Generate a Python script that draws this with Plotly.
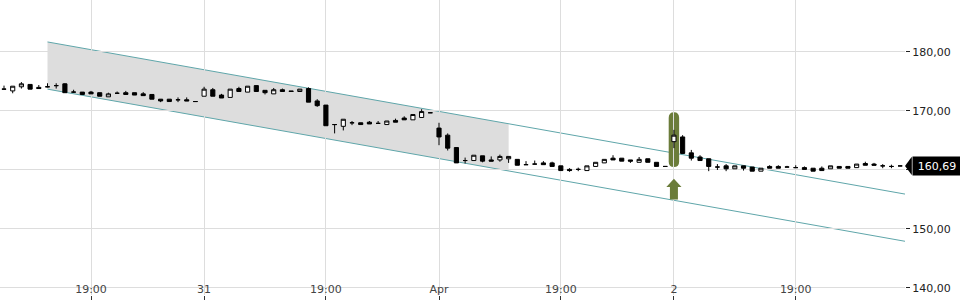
import pandas as pd
import plotly.graph_objects as go

# ---------------- data ----------------
session_dates = ["2020-03-30", "2020-03-31", "2020-04-01", "2020-04-02"]
session_first = ["16:30", "15:30", "15:30", "15:30"]
session_last = "22:00"

opens = [173.7, 173.4, 174.1, 174.5, 174.0, 174.1, 174.3, 174.6, 173.2, 173.2,
         173.2, 173.1, 172.4, 173.0, 173.1, 173.1, 172.9, 172.8, 172.0, 172.0,
         171.9, 171.9, 171.6,
         172.5, 173.6, 172.7, 172.3, 173.8, 173.2, 174.3, 173.5, 172.9, 173.6,
         173.4, 173.3, 173.8, 171.7, 171.0, 167.7, 167.4, 168.0, 168.0, 168.1,
         167.9, 167.7, 168.4, 168.8, 168.5, 168.9, 169.7,
         167.1, 165.9, 163.8, 161.6, 161.6, 162.4, 161.7, 161.7, 161.9, 161.8,
         160.9, 161.0, 161.2, 161.2, 160.7, 160.1, 160.1, 159.9, 160.6, 161.2,
         162.0, 162.0, 161.7, 161.3, 161.9, 161.3, 160.6,
         164.8, 165.6, 162.9, 162.2, 161.9, 160.5, 160.7, 160.2, 160.7, 160.5,
         159.8, 160.6, 160.6, 160.5, 160.4, 160.4, 160.3, 160.3, 160.2, 160.6,
         160.6, 160.4, 161.1, 161.0, 160.7, 160.6, 160.69]
highs = [174.3, 174.2, 174.9, 174.5, 174.4, 174.7, 174.7, 174.7, 173.6, 173.2,
         173.4, 173.1, 173.1, 173.3, 173.4, 173.1, 173.2, 172.8, 172.0, 172.0,
         172.3, 172.3, 171.6,
         174.1, 173.9, 172.9, 173.7, 174.1, 174.2, 174.3, 173.5, 173.9, 173.8,
         173.4, 173.7, 174.0, 172.0, 171.0, 167.7, 168.6, 168.3, 168.0, 168.3,
         168.3, 168.3, 168.7, 169.1, 169.4, 170.3, 169.7,
         168.0, 166.2, 163.8, 162.1, 162.5, 162.4, 162.3, 162.6, 162.3, 161.8,
         161.5, 161.6, 161.5, 161.4, 160.7, 160.3, 160.4, 160.7, 161.3, 161.8,
         162.5, 162.0, 161.7, 162.2, 161.9, 161.3, 160.6,
         166.8, 165.9, 163.4, 162.5, 161.9, 161.0, 161.0, 160.7, 160.7, 160.5,
         160.3, 160.8, 160.8, 160.7, 160.8, 160.6, 160.3, 160.6, 160.7, 160.6,
         160.6, 161.0, 161.4, 161.2, 161.0, 160.9, 160.69]
lows = [173.7, 173.0, 173.8, 173.7, 173.8, 174.0, 173.8, 173.1, 173.1, 172.8,
        172.9, 172.5, 172.4, 173.0, 172.8, 172.7, 172.6, 172.0, 171.5, 171.6,
        171.5, 171.7, 171.6,
        172.5, 172.5, 172.2, 172.3, 173.3, 173.2, 173.3, 172.8, 172.9, 173.3,
        173.3, 173.3, 171.5, 170.7, 167.5, 166.2, 166.7, 167.6, 167.7, 167.8,
        167.9, 167.7, 168.1, 168.5, 168.5, 168.9, 169.7,
        164.2, 163.3, 161.2, 161.1, 161.6, 161.3, 161.5, 161.4, 161.2, 160.8,
        160.9, 161.0, 160.9, 160.6, 159.9, 159.7, 159.8, 159.9, 160.6, 161.2,
        161.7, 161.5, 161.2, 161.3, 161.3, 160.6, 160.6,
        163.7, 162.8, 161.6, 161.6, 159.8, 160.0, 159.8, 160.2, 159.9, 159.8,
        159.8, 160.3, 160.3, 160.5, 160.4, 160.1, 159.8, 159.9, 160.2, 160.3,
        160.3, 160.4, 160.8, 160.8, 160.3, 160.3, 160.69]
closes = [173.7, 174.2, 174.6, 173.7, 173.8, 174.1, 174.3, 173.1, 173.2, 172.8,
          172.9, 172.5, 172.9, 173.0, 172.8, 172.7, 172.6, 172.0, 171.7, 171.6,
          171.9, 171.7, 171.6,
          173.7, 172.5, 172.2, 173.7, 173.3, 174.2, 173.3, 173.1, 173.6, 173.3,
          173.3, 173.7, 171.5, 170.9, 167.5, 167.7, 168.6, 168.0, 167.7, 167.8,
          167.9, 168.3, 168.1, 168.5, 169.4, 169.9, 169.7,
          165.6, 163.7, 161.2, 161.6, 162.5, 161.5, 161.5, 162.3, 162.3, 160.8,
          160.9, 161.0, 160.9, 160.6, 159.9, 159.9, 160.1, 160.7, 161.3, 161.8,
          161.7, 161.5, 161.5, 161.8, 161.3, 160.6, 160.6,
          165.9, 162.8, 162.0, 161.6, 160.6, 160.5, 160.2, 160.7, 160.3, 159.8,
          160.3, 160.3, 160.3, 160.5, 160.4, 160.1, 159.8, 159.9, 160.7, 160.3,
          160.3, 161.0, 160.8, 160.8, 160.7, 160.6, 160.69]

tick_times = ["2020-03-30 19:00", "2020-03-31 15:30", "2020-03-31 19:00",
              "2020-04-01 15:30", "2020-04-01 19:00", "2020-04-02 15:30",
              "2020-04-02 19:00"]
tick_labels = ["19:00", "31", "19:00", "Apr", "19:00", "2", "19:00"]
price_ticks = [140, 150, 160, 170, 180]
last_price = 160.69

# trend channel (candle index, price)
channel_x = [5, 104]
channel_upper = [181.7, 155.8]
channel_lower = [173.7, 147.8]
channel_fill_end = 58

# signal (buy arrow) on candle
signal_time = "2020-04-02 15:30"
signal_band = [160.5, 169.8]
signal_arrow = [158.5, 157.1, 155.0]   # tip, head base, tail

# ---------------- build ----------------
times = []
for d, s in zip(session_dates, session_first):
    times += [t.strftime("%Y-%m-%d %H:%M")
              for t in pd.date_range(f"{d} {s}", f"{d} {session_last}", freq="15min")]
pos = {t: i for i, t in enumerate(times)}


def fmt(v):
    return f"{v:.2f}".replace(".", ",")


# the last-price tag hides the tick label that it covers
price_labels = [fmt(v) if abs(v - last_price) > 3 else "" for v in price_ticks]

GREEN = "#6b7c3a"
TEAL = "#5fa6aa"

fig = go.Figure()
fig.add_trace(go.Candlestick(
    x=times, open=opens, high=highs, low=lows, close=closes,
    increasing=dict(line=dict(color="black", width=1), fillcolor="white"),
    decreasing=dict(line=dict(color="black", width=1), fillcolor="black"),
    whiskerwidth=0, showlegend=False, hoverinfo="x+y"))


def chan(x, arr):
    x0, x1 = channel_x
    return arr[0] + (arr[1] - arr[0]) * (x - x0) / (x1 - x0)


shapes = []
fx0, fx1 = channel_x[0], channel_fill_end
shapes.append(dict(
    type="path", xref="x", yref="y", layer="below", line=dict(width=0),
    fillcolor="#dddddd",
    path=f"M {fx0},{chan(fx0, channel_upper)} L {fx1},{chan(fx1, channel_upper)} "
         f"L {fx1},{chan(fx1, channel_lower)} L {fx0},{chan(fx0, channel_lower)} Z"))
for arr in (channel_upper, channel_lower):
    shapes.append(dict(type="line", xref="x", yref="y", layer="below",
                       x0=channel_x[0], x1=channel_x[1], y0=arr[0], y1=arr[1],
                       line=dict(color=TEAL, width=1)))

si = pos[signal_time]
hw = 0.6
x0, x1 = si - hw, si + hw
y0, y1 = signal_band
ry = 0.95
shapes.append(dict(
    type="path", xref="x", yref="y", layer="below", line=dict(width=0),
    fillcolor=GREEN,
    path=(f"M {x0},{y0 + ry} L {x0},{y1 - ry} Q {x0},{y1} {si},{y1} "
          f"Q {x1},{y1} {x1},{y1 - ry} L {x1},{y0 + ry} Q {x1},{y0} {si},{y0} "
          f"Q {x0},{y0} {x0},{y0 + ry} Z")))
tip, base, tail = signal_arrow
hh, sh = 0.87, 0.46
shapes.append(dict(
    type="path", xref="x", yref="y", layer="above", line=dict(width=0),
    fillcolor=GREEN,
    path=(f"M {si},{tip} L {si + hh},{base} L {si + sh},{base} L {si + sh},{tail} "
          f"L {si - sh},{tail} L {si - sh},{base} L {si - hh},{base} Z")))

# last price tag pointer
shapes.append(dict(
    type="path", xref="paper", yref="y", layer="above", line=dict(width=0),
    fillcolor="black",
    path=f"M 1.0,{last_price} L 1.0075,{last_price + 1.55} L 1.0075,{last_price - 1.55} Z"))

fig.update_layout(
    width=960, height=300,
    margin=dict(l=0, r=55, t=0, b=5),
    paper_bgcolor="white", plot_bgcolor="white",
    separators=",.",
    font=dict(family="DejaVu Sans", size=11, color="#222222"),
    shapes=shapes,
    boxgap=0.32,
    xaxis=dict(type="category", range=[-0.46, 103.56],
               tickvals=tick_times, ticktext=tick_labels,
               showgrid=True, gridcolor="#dddddd", gridwidth=1,
               ticks="outside", ticklen=5, tickcolor="#333333",
               ticklabelposition="inside", ticklabeloverflow="allow",
               ticklabelstandoff=-3,
               showline=False, zeroline=False,
               rangeslider=dict(visible=False), fixedrange=True),
    yaxis=dict(side="right", range=[138.81, 188.81], tickvals=price_ticks,
               ticktext=price_labels, ticklabeloverflow="allow",
               showgrid=True, gridcolor="#dddddd", gridwidth=1,
               ticks="outside", ticklen=4, tickcolor="#222222",
               zeroline=False, showline=False, fixedrange=True),
    annotations=[dict(xref="paper", yref="y", x=1.0075, y=last_price,
                      xanchor="left", yanchor="middle", showarrow=False,
                      text=fmt(last_price),
                      bgcolor="black", font=dict(color="white", size=11,
                                                 family="DejaVu Sans"),
                      width=44, height=14, borderpad=2)],
)

fig.write_html("out.html")
